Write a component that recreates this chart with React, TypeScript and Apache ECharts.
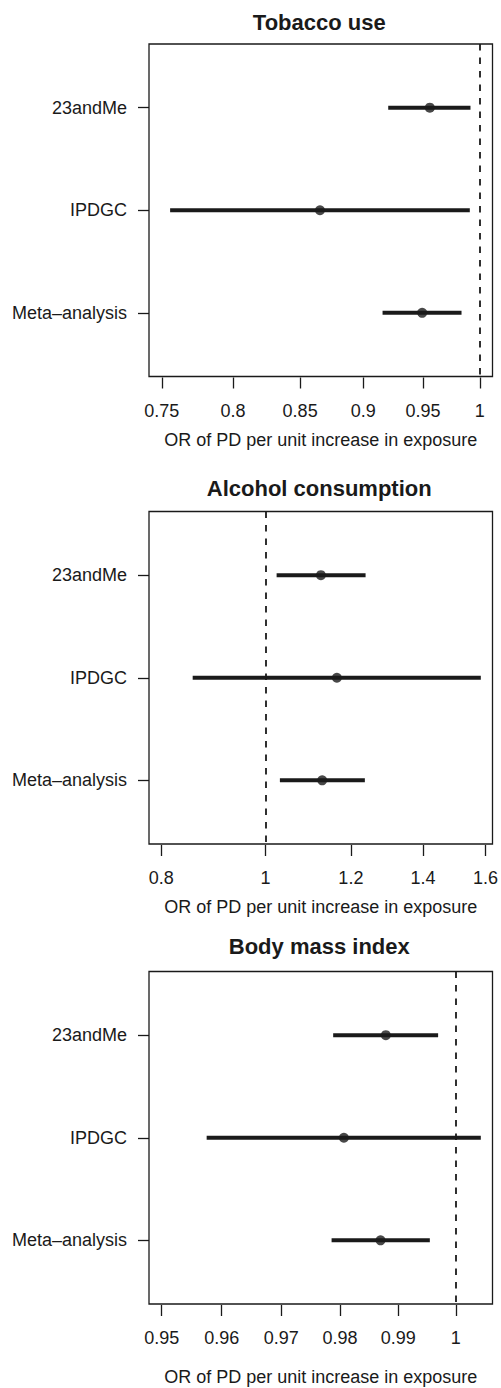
import React, { useEffect, useRef } from 'react';
import * as echarts from 'echarts';

// ---- data ----
const studies = ['23andMe', 'IPDGC', 'Meta–analysis'];
const studyRows = [1, 2, 3];
const panelTitles = ['Tobacco use', 'Alcohol consumption', 'Body mass index'];
const xAxisTitle = 'OR of PD per unit increase in exposure';

const tobaccoOR = [0.9558, 0.8654, 0.9492];
const tobaccoLo = [0.9205, 0.7557, 0.9158];
const tobaccoHi = [0.9916, 0.991, 0.9836];
const tobaccoTicks = [0.75, 0.8, 0.85, 0.9, 0.95, 1];
const tobaccoRange = [0.7414, 1.01155];

const alcoholOR = [1.1255, 1.1646, 1.1286];
const alcoholLo = [1.0238, 0.8556, 1.031];
const alcoholHi = [1.2383, 1.5843, 1.2364];
const alcoholTicks = [0.8, 1, 1.2, 1.4, 1.6];
const alcoholRange = [0.7793, 1.6244];

const bmiOR = [0.98787, 0.98067, 0.98696];
const bmiLo = [0.97884, 0.95748, 0.97857];
const bmiHi = [0.99692, 1.00437, 0.99548];
const bmiTicks = [0.95, 0.96, 0.97, 0.98, 0.99, 1];
const bmiRange = [0.9479, 1.00642];

const nullValue = 1;

// ---- layout / style ----
const FONT = '"Liberation Sans", Arial, Helvetica, sans-serif';
const INK = '#1a1a1a';
const gridTops = [44, 511.5, 971.5];
const gridHeight = 332.5;
const gridLeft = 149;
const gridWidth = 343.5;
const titleY = [22, 488.5, 946.5];
const nameGaps = [53, 53, 63];

const panels = [
  { or: tobaccoOR, lo: tobaccoLo, hi: tobaccoHi, ticks: tobaccoTicks, range: tobaccoRange },
  { or: alcoholOR, lo: alcoholLo, hi: alcoholHi, ticks: alcoholTicks, range: alcoholRange },
  { or: bmiOR, lo: bmiLo, hi: bmiHi, ticks: bmiTicks, range: bmiRange },
];

function buildOption() {
  const grid: any[] = [];
  const xAxis: any[] = [];
  const yAxis: any[] = [];
  const series: any[] = [];
  const graphic: any[] = [];

  panels.forEach((p, i) => {
    grid.push({
      left: gridLeft,
      top: gridTops[i],
      width: gridWidth,
      height: gridHeight,
      show: true,
      borderColor: INK,
      borderWidth: 1.3,
      backgroundColor: 'transparent',
    });
    const tickVals = p.ticks.map((t) => Math.log(t));
    xAxis.push({
      type: 'value',
      gridIndex: i,
      min: Math.log(p.range[0]),
      max: Math.log(p.range[1]),
      position: 'bottom',
      offset: 1,
      splitLine: { show: false },
      axisLine: { show: false, onZero: false },
      axisTick: {
        show: true,
        length: 11,
        customValues: tickVals,
        lineStyle: { color: INK, width: 1.3 },
      },
      axisLabel: {
        customValues: tickVals,
        formatter: (v: number) => String(parseFloat(Math.exp(v).toFixed(4))),
        fontSize: 18,
        fontFamily: FONT,
        color: INK,
        margin: 24,
      },
      name: xAxisTitle,
      nameLocation: 'middle',
      nameGap: nameGaps[i],
      nameTextStyle: { fontSize: 18, fontFamily: FONT, color: INK },
    });
    yAxis.push({
      type: 'value',
      gridIndex: i,
      min: 0.38,
      max: 3.62,
      inverse: true,
      position: 'left',
      splitLine: { show: false },
      axisLine: { show: false, onZero: false },
      axisTick: {
        show: true,
        length: 11,
        customValues: studyRows,
        lineStyle: { color: INK, width: 1.3 },
      },
      axisLabel: {
        customValues: studyRows,
        formatter: (v: number) => studies[Math.round(v) - 1] ?? '',
        fontSize: 18,
        fontFamily: FONT,
        color: INK,
        margin: 22,
      },
    });

    series.push({
      type: 'custom',
      xAxisIndex: i,
      yAxisIndex: i,
      silent: true,
      encode: { x: [0, 1], y: 2 },
      data: studyRows.map((r, k) => [Math.log(p.lo[k]), Math.log(p.hi[k]), r]),
      renderItem: (params: any, api: any) => {
        const a = api.coord([api.value(0), api.value(2)]);
        const b = api.coord([api.value(1), api.value(2)]);
        return {
          type: 'line',
          shape: { x1: a[0], y1: a[1], x2: b[0], y2: b[1] },
          style: { stroke: INK, lineWidth: 4, lineCap: 'butt' },
        };
      },
    });
    series.push({
      type: 'scatter',
      xAxisIndex: i,
      yAxisIndex: i,
      silent: true,
      symbol: 'circle',
      symbolSize: 10,
      itemStyle: { color: INK },
      data: studyRows.map((r, k) => [Math.log(p.or[k]), r]),
      markLine: {
        silent: true,
        symbol: ['none', 'none'],
        label: { show: false },
        lineStyle: { color: INK, width: 1.8, type: [6.5, 7] },
        data: [{ xAxis: Math.log(nullValue) }],
      },
    });

    graphic.push({
      type: 'text',
      x: gridLeft + gridWidth / 2 - 1.5,
      y: titleY[i],
      style: {
        text: panelTitles[i],
        fontSize: 22,
        fontWeight: 'bold',
        fontFamily: FONT,
        fill: INK,
        align: 'center',
        verticalAlign: 'middle',
        textAlign: 'center',
        textVerticalAlign: 'middle',
      },
    });
  });

  return {
    animation: false,
    backgroundColor: '#ffffff',
    grid,
    xAxis,
    yAxis,
    series,
    graphic,
  };
}

export default function App() {
  const ref = useRef<HTMLDivElement>(null);
  useEffect(() => {
    document.body.style.margin = '0';
    const chart = echarts.init(ref.current as HTMLDivElement, null, { renderer: 'svg' });
    chart.setOption(buildOption() as any);
    return () => chart.dispose();
  }, []);
  return (
    <div
      ref={ref}
      style={{ position: 'absolute', left: 0, top: 0, width: 501, height: 1388 }}
    />
  );
}
